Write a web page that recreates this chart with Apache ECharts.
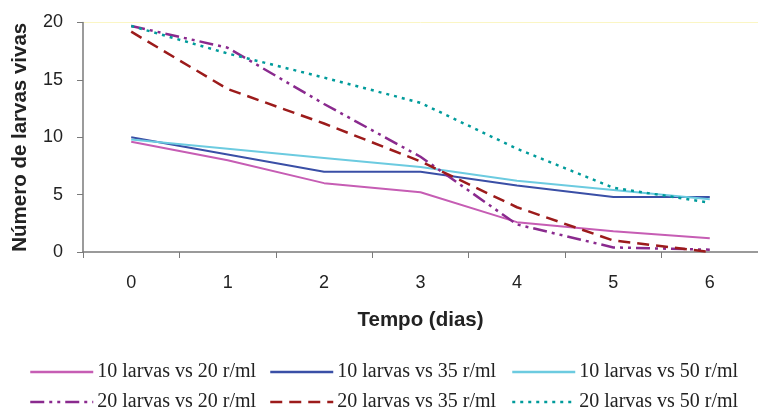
<!DOCTYPE html>
<html>
<head>
<meta charset="utf-8">
<script src="https://cdn.jsdelivr.net/npm/echarts@6/dist/echarts.min.js"></script>
<style>
  html, body { margin: 0; padding: 0; background: #fff; }
  #chart { width: 758px; height: 412px; }
</style>
</head>
<body>
<div id="chart"></div>
<script>
// dias
const dias = ['0', '1', '2', '3', '4', '5', '6']

// número de larvas vivas por série
const l10vs20 = [9.6, 8.0, 6.0, 5.2, 2.6, 1.8, 1.2]
const l10vs35 = [10.0, 8.5, 7.0, 7.0, 5.8, 4.8, 4.8]
const l10vs50 = [9.8, 9.0, 8.2, 7.4, 6.2, 5.4, 4.6]
const l20vs20 = [19.7, 17.8, 12.9, 8.3, 2.4, 0.4, 0.2]
const l20vs35 = [19.2, 14.2, 11.2, 7.9, 3.9, 1.0, 0.0]
const l20vs50 = [19.7, 17.3, 15.2, 13.0, 9.0, 5.6, 4.3]

const seriesDefs = [
  { name: '10 larvas vs 20 r/ml', data: l10vs20, color: '#c65db4', type: 'solid', width: 2 },
  { name: '10 larvas vs 35 r/ml', data: l10vs35, color: '#3a4fa6', type: 'solid', width: 2 },
  { name: '10 larvas vs 50 r/ml', data: l10vs50, color: '#6ccbe0', type: 'solid', width: 2 },
  { name: '20 larvas vs 20 r/ml', data: l20vs20, color: '#8a2a8e', type: [14, 5, 3, 5, 3, 5], width: 2.5 },
  { name: '20 larvas vs 35 r/ml', data: l20vs35, color: '#9c1b1b', type: [12, 7], width: 2.5 },
  { name: '20 larvas vs 50 r/ml', data: l20vs50, color: '#009b9b', type: [3, 5], width: 2.5 }
]

// posição de cada legenda (duas linhas, três colunas)
const legendPos = [
  { left: 29, top: 362 }, { left: 269, top: 362 }, { left: 511, top: 362 },
  { left: 29, top: 392 }, { left: 269, top: 392 }, { left: 511, top: 392 }
]

const chart = echarts.init(document.getElementById('chart'))

const option = {
  animation: false,
  grid: {
    left: 83,
    top: 22.5,
    width: 682,
    height: 229.5,
    containLabel: false
  },
  legend: seriesDefs.map((s, i) => ({
    data: [s.name],
    left: legendPos[i].left,
    top: legendPos[i].top,
    itemWidth: 63,
    itemHeight: 20,
    itemGap: 0,
    padding: 0,
    itemStyle: { opacity: 0 },
    lineStyle: { width: 2.5 },
    textStyle: {
      fontFamily: 'Liberation Serif, Times New Roman, serif',
      fontSize: 20,
      color: '#222',
      padding: [0, 0, 0, -1]
    }
  })),
  xAxis: {
    type: 'category',
    data: dias,
    boundaryGap: true,
    name: 'Tempo (dias)',
    nameLocation: 'middle',
    nameGap: 58,
    nameTextStyle: {
      fontFamily: 'Liberation Sans, Arial, sans-serif',
      fontWeight: 'bold',
      fontSize: 20.5,
      color: '#222'
    },
    axisLine: { lineStyle: { color: '#7a7a7a', width: 1.5 } },
    axisTick: { show: true, length: 6, alignWithLabel: false, lineStyle: { color: '#7a7a7a' } },
    axisLabel: {
      fontFamily: 'Liberation Sans, Arial, sans-serif',
      fontSize: 18,
      color: '#222',
      margin: 22
    }
  },
  yAxis: {
    type: 'value',
    min: 0,
    max: 20,
    interval: 5,
    name: 'Número de larvas vivas',
    nameLocation: 'middle',
    nameGap: 52,
    nameTextStyle: {
      fontFamily: 'Liberation Sans, Arial, sans-serif',
      fontWeight: 'bold',
      fontSize: 20.5,
      color: '#222'
    },
    axisLine: { show: true, lineStyle: { color: '#7a7a7a', width: 1.5 } },
    axisTick: { show: true, length: 6, lineStyle: { color: '#7a7a7a' } },
    axisLabel: {
      fontFamily: 'Liberation Sans, Arial, sans-serif',
      fontSize: 18,
      color: '#222',
      margin: 20,
      padding: [3, 0, 0, 0]
    },
    splitLine: {
      show: true,
      lineStyle: {
        color: ['transparent', 'transparent', 'transparent', 'transparent', '#fbf6c4'],
        width: 1
      }
    }
  },
  series: seriesDefs.map(s => ({
    name: s.name,
    type: 'line',
    data: s.data,
    symbol: 'none',
    smooth: false,
    color: s.color,
    lineStyle: { color: s.color, type: s.type, width: s.width }
  }))
}

chart.setOption(option)
</script>
</body>
</html>
